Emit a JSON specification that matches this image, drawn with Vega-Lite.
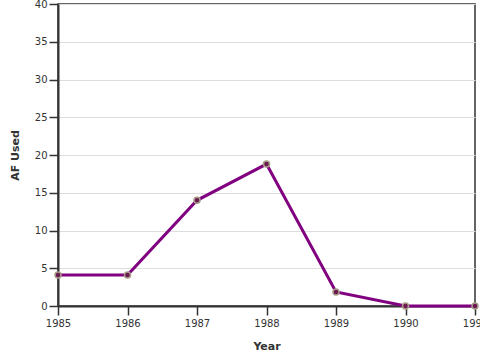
{
  "$schema": "https://vega.github.io/schema/vega-lite/v6.json",
  "autosize": {"type": "none"},
  "width": 417,
  "height": 302,
  "padding": {"left": 58, "top": 4, "right": 5, "bottom": 54},
  "config": {
    "font": "DejaVu Sans",
    "view": {"stroke": "#333", "strokeWidth": 1.5},
    "axis": {
      "labelFont": "DejaVu Sans",
      "titleFont": "DejaVu Sans",
      "labelFontSize": 10,
      "titleFontSize": 11,
      "labelColor": "#333",
      "titleColor": "#333",
      "domainColor": "#333",
      "domainWidth": 2,
      "tickColor": "#333",
      "tickWidth": 1.5,
      "tickSize": 9,
      "gridColor": "#dddddd",
      "labelFlush": false
    }
  },
  "data": {
    "values": [
      {"Year": 1985, "AF": 4.1},
      {"Year": 1986, "AF": 4.1},
      {"Year": 1987, "AF": 14.0},
      {"Year": 1988, "AF": 18.8},
      {"Year": 1989, "AF": 1.85},
      {"Year": 1990, "AF": 0},
      {"Year": 1991, "AF": 0}
    ]
  },
  "encoding": {
    "x": {
      "field": "Year",
      "type": "quantitative",
      "scale": {"domain": [1985, 1991], "nice": false, "zero": false},
      "axis": {"values": [1985, 1986, 1987, 1988, 1989, 1990, 1991], "format": "d", "grid": false, "title": "Year", "titlePadding": 12, "labelPadding": 3, "labelFlush": false}
    },
    "y": {
      "field": "AF",
      "type": "quantitative",
      "scale": {"domain": [0, 40], "nice": false},
      "axis": {"values": [0, 5, 10, 15, 20, 25, 30, 35, 40], "grid": true, "title": "AF Used", "titlePadding": 14, "labelPadding": 2, "labelFlush": false}
    }
  },
  "layer": [
    {"mark": {"type": "line", "color": "#800080", "strokeWidth": 3}},
    {"mark": {"type": "point", "filled": true, "fill": "#6a1a50", "stroke": "#a89c88", "strokeWidth": 1.5, "opacity": 1, "size": 36}}
  ]
}
